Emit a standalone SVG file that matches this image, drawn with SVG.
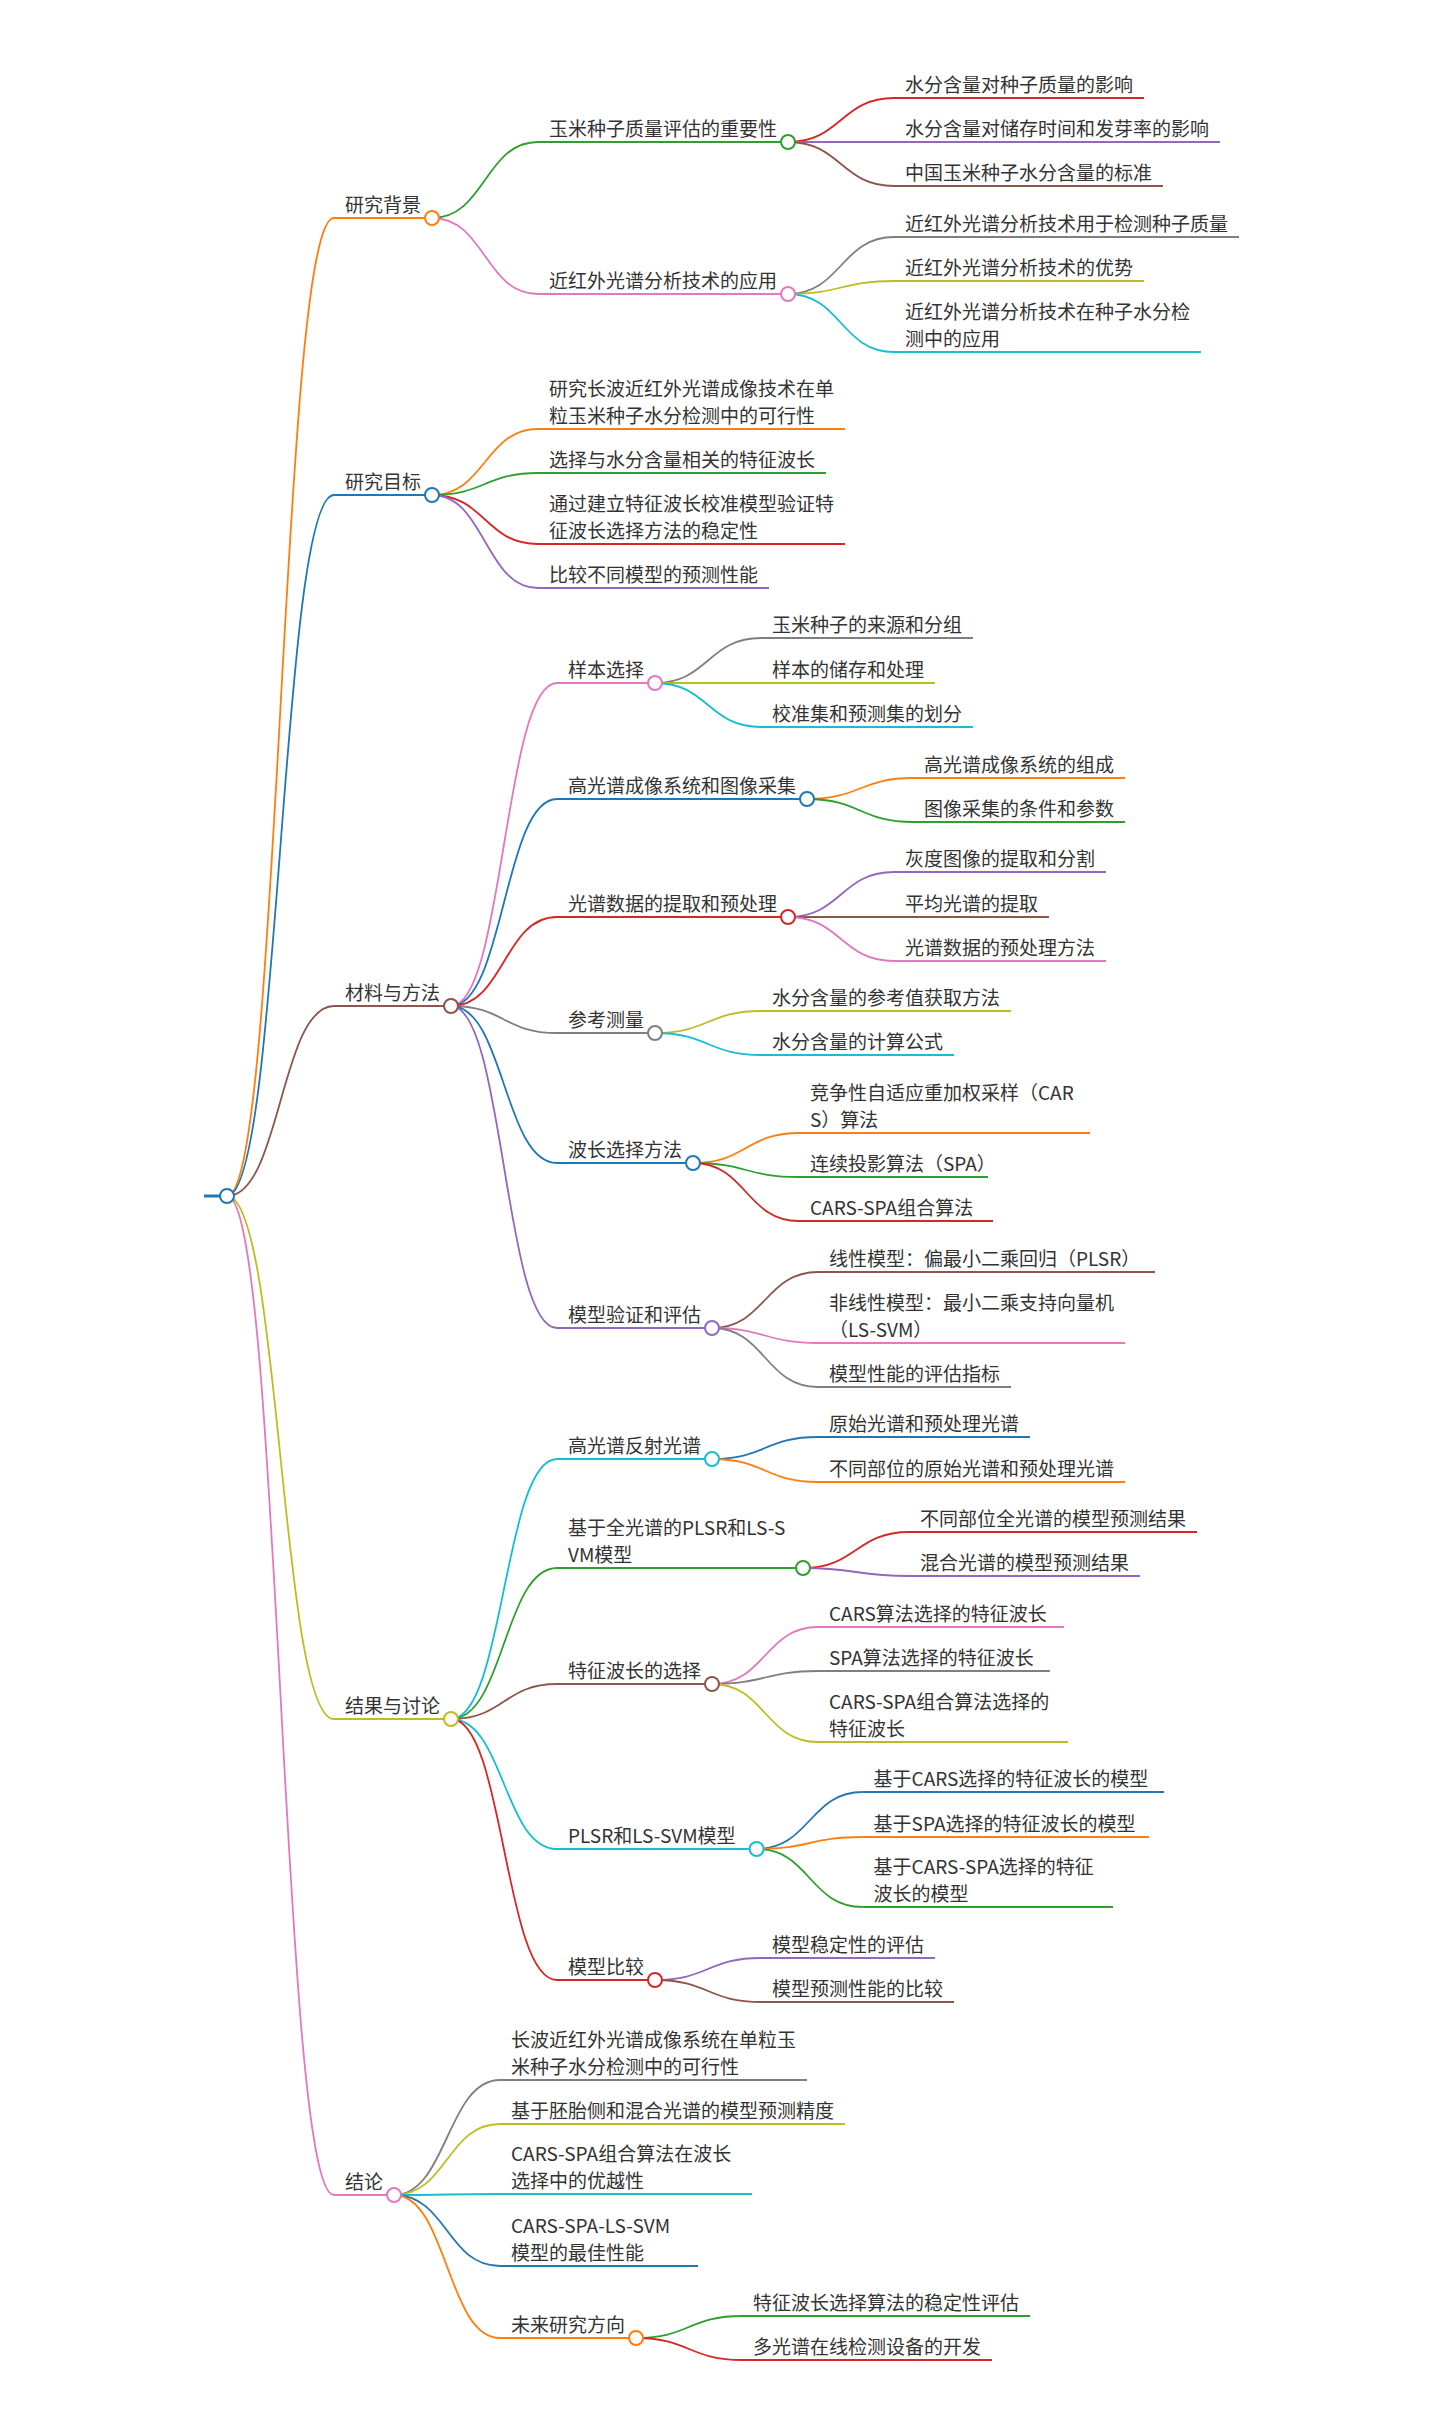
<svg xmlns="http://www.w3.org/2000/svg" width="1440" height="2421" viewBox="0 0 1440 2421">
<style>
.t{font-family:"Noto Sans CJK SC","Noto Sans",sans-serif;font-size:19px;fill:#333}
.l{fill:none;stroke-width:1.8}
.u{stroke-width:1.8}
.d{fill:#fff;stroke-width:2}
.bl{stroke:#1f77b4}.or{stroke:#ff7f0e}.gr{stroke:#2ca02c}.rd{stroke:#d62728}.pu{stroke:#9467bd}
.br{stroke:#8c564b}.pk{stroke:#e377c2}.gy{stroke:#7f7f7f}.ol{stroke:#bcbd22}.cy{stroke:#17becf}
</style>
<rect width="1440" height="2421" fill="#fff"/>
<g id="connectors">
<path class="l or" d="M227,1196 C280.5,1196 280.5,218 334,218"/>
<path class="l bl" d="M227,1196 C280.5,1196 280.5,495 334,495"/>
<path class="l br" d="M227,1196 C280.5,1196 280.5,1006 334,1006"/>
<path class="l ol" d="M227,1196 C280.5,1196 280.5,1719 334,1719"/>
<path class="l pk" d="M227,1196 C280.5,1196 280.5,2195 334,2195"/>
<path class="l gr" d="M432,218 C485,218 485,142 538,142"/>
<path class="l pk" d="M432,218 C485,218 485,294 538,294"/>
<path class="l rd" d="M788,142 C841,142 841,98 894,98"/>
<path class="l pu" d="M788,142 C841,142 841,142 894,142"/>
<path class="l br" d="M788,142 C841,142 841,186 894,186"/>
<path class="l gy" d="M788,294 C841,294 841,237 894,237"/>
<path class="l ol" d="M788,294 C841,294 841,281 894,281"/>
<path class="l cy" d="M788,294 C841,294 841,352 894,352"/>
<path class="l or" d="M432,495 C485,495 485,429 538,429"/>
<path class="l gr" d="M432,495 C485,495 485,473 538,473"/>
<path class="l rd" d="M432,495 C485,495 485,544 538,544"/>
<path class="l pu" d="M432,495 C485,495 485,588 538,588"/>
<path class="l pk" d="M451,1006 C504,1006 504,683 557,683"/>
<path class="l bl" d="M451,1006 C504,1006 504,799 557,799"/>
<path class="l rd" d="M451,1006 C504,1006 504,917 557,917"/>
<path class="l gy" d="M451,1006 C504,1006 504,1033 557,1033"/>
<path class="l bl" d="M451,1006 C504,1006 504,1163 557,1163"/>
<path class="l pu" d="M451,1006 C504,1006 504,1328 557,1328"/>
<path class="l gy" d="M655,683 C708,683 708,638 761,638"/>
<path class="l ol" d="M655,683 C708,683 708,683 761,683"/>
<path class="l cy" d="M655,683 C708,683 708,727 761,727"/>
<path class="l or" d="M807,799 C860,799 860,778 913,778"/>
<path class="l gr" d="M807,799 C860,799 860,822 913,822"/>
<path class="l pu" d="M788,917 C841,917 841,872 894,872"/>
<path class="l br" d="M788,917 C841,917 841,917 894,917"/>
<path class="l pk" d="M788,917 C841,917 841,961 894,961"/>
<path class="l ol" d="M655,1033 C708,1033 708,1011 761,1011"/>
<path class="l cy" d="M655,1033 C708,1033 708,1055 761,1055"/>
<path class="l or" d="M693,1163 C746,1163 746,1133 799,1133"/>
<path class="l gr" d="M693,1163 C746,1163 746,1177 799,1177"/>
<path class="l rd" d="M693,1163 C746,1163 746,1221 799,1221"/>
<path class="l br" d="M712,1328 C765,1328 765,1272 818,1272"/>
<path class="l pk" d="M712,1328 C765,1328 765,1343 818,1343"/>
<path class="l gy" d="M712,1328 C765,1328 765,1387 818,1387"/>
<path class="l cy" d="M451,1719 C504,1719 504,1459 557,1459"/>
<path class="l gr" d="M451,1719 C504,1719 504,1568 557,1568"/>
<path class="l br" d="M451,1719 C504,1719 504,1684 557,1684"/>
<path class="l cy" d="M451,1719 C504,1719 504,1849 557,1849"/>
<path class="l rd" d="M451,1719 C504,1719 504,1980 557,1980"/>
<path class="l bl" d="M712,1459 C765,1459 765,1437 818,1437"/>
<path class="l or" d="M712,1459 C765,1459 765,1482 818,1482"/>
<path class="l rd" d="M803,1568 C856,1568 856,1532 909,1532"/>
<path class="l pu" d="M803,1568 C856,1568 856,1576 909,1576"/>
<path class="l pk" d="M712,1684 C765,1684 765,1627 818,1627"/>
<path class="l gy" d="M712,1684 C765,1684 765,1671 818,1671"/>
<path class="l ol" d="M712,1684 C765,1684 765,1742 818,1742"/>
<path class="l bl" d="M756.6,1849 C809.6,1849 809.6,1792 862.6,1792"/>
<path class="l or" d="M756.6,1849 C809.6,1849 809.6,1837 862.6,1837"/>
<path class="l gr" d="M756.6,1849 C809.6,1849 809.6,1907 862.6,1907"/>
<path class="l pu" d="M655,1980 C708,1980 708,1958 761,1958"/>
<path class="l br" d="M655,1980 C708,1980 708,2002 761,2002"/>
<path class="l gy" d="M394,2195 C447,2195 447,2080 500,2080"/>
<path class="l ol" d="M394,2195 C447,2195 447,2124 500,2124"/>
<path class="l cy" d="M394,2195 C447,2195 447,2194 500,2194"/>
<path class="l bl" d="M394,2195 C447,2195 447,2266 500,2266"/>
<path class="l or" d="M394,2195 C447,2195 447,2338 500,2338"/>
<path class="l gr" d="M636,2338 C689,2338 689,2316 742,2316"/>
<path class="l rd" d="M636,2338 C689,2338 689,2360 742,2360"/>
</g>

<g id="root"><line class="bl" stroke-width="3" x1="204" y1="1196" x2="227" y2="1196"/><circle class="d bl" cx="227" cy="1196" r="7"/></g>

<g id="n-bg"><line class="u or" x1="334" y1="218" x2="432" y2="218"/><text class="t" x="345" y="212">研究背景</text><circle class="d or" cx="432" cy="218" r="7"/></g>
<g id="n-bg1"><line class="u gr" x1="538" y1="142" x2="788" y2="142"/><text class="t" x="549" y="136">玉米种子质量评估的重要性</text><circle class="d gr" cx="788" cy="142" r="7"/></g>
<g id="n-bg1a"><line class="u rd" x1="894" y1="98" x2="1144" y2="98"/><text class="t" x="905" y="92">水分含量对种子质量的影响</text></g>
<g id="n-bg1b"><line class="u pu" x1="894" y1="142" x2="1220" y2="142"/><text class="t" x="905" y="136">水分含量对储存时间和发芽率的影响</text></g>
<g id="n-bg1c"><line class="u br" x1="894" y1="186" x2="1163" y2="186"/><text class="t" x="905" y="180">中国玉米种子水分含量的标准</text></g>
<g id="n-bg2"><line class="u pk" x1="538" y1="294" x2="788" y2="294"/><text class="t" x="549" y="288">近红外光谱分析技术的应用</text><circle class="d pk" cx="788" cy="294" r="7"/></g>
<g id="n-bg2a"><line class="u gy" x1="894" y1="237" x2="1239" y2="237"/><text class="t" x="905" y="231">近红外光谱分析技术用于检测种子质量</text></g>
<g id="n-bg2b"><line class="u ol" x1="894" y1="281" x2="1144" y2="281"/><text class="t" x="905" y="275">近红外光谱分析技术的优势</text></g>
<g id="n-bg2c"><line class="u cy" x1="894" y1="352" x2="1201" y2="352"/><text class="t" x="905" y="319">近红外光谱分析技术在种子水分检</text><text class="t" x="905" y="346">测中的应用</text></g>

<g id="n-mb"><line class="u bl" x1="334" y1="495" x2="432" y2="495"/><text class="t" x="345" y="489">研究目标</text><circle class="d bl" cx="432" cy="495" r="7"/></g>
<g id="n-mb1"><line class="u or" x1="538" y1="429" x2="845" y2="429"/><text class="t" x="549" y="396">研究长波近红外光谱成像技术在单</text><text class="t" x="549" y="423">粒玉米种子水分检测中的可行性</text></g>
<g id="n-mb2"><line class="u gr" x1="538" y1="473" x2="826" y2="473"/><text class="t" x="549" y="467">选择与水分含量相关的特征波长</text></g>
<g id="n-mb3"><line class="u rd" x1="538" y1="544" x2="845" y2="544"/><text class="t" x="549" y="511">通过建立特征波长校准模型验证特</text><text class="t" x="549" y="538">征波长选择方法的稳定性</text></g>
<g id="n-mb4"><line class="u pu" x1="538" y1="588" x2="769" y2="588"/><text class="t" x="549" y="582">比较不同模型的预测性能</text></g>

<g id="n-cl"><line class="u br" x1="334" y1="1006" x2="451" y2="1006"/><text class="t" x="345" y="1000">材料与方法</text><circle class="d br" cx="451" cy="1006" r="7"/></g>
<g id="n-cl1"><line class="u pk" x1="557" y1="683" x2="655" y2="683"/><text class="t" x="568" y="677">样本选择</text><circle class="d pk" cx="655" cy="683" r="7"/></g>
<g id="n-cl1a"><line class="u gy" x1="761" y1="638" x2="973" y2="638"/><text class="t" x="772" y="632">玉米种子的来源和分组</text></g>
<g id="n-cl1b"><line class="u ol" x1="761" y1="683" x2="935" y2="683"/><text class="t" x="772" y="677">样本的储存和处理</text></g>
<g id="n-cl1c"><line class="u cy" x1="761" y1="727" x2="973" y2="727"/><text class="t" x="772" y="721">校准集和预测集的划分</text></g>
<g id="n-cl2"><line class="u bl" x1="557" y1="799" x2="807" y2="799"/><text class="t" x="568" y="793">高光谱成像系统和图像采集</text><circle class="d bl" cx="807" cy="799" r="7"/></g>
<g id="n-cl2a"><line class="u or" x1="913" y1="778" x2="1125" y2="778"/><text class="t" x="924" y="772">高光谱成像系统的组成</text></g>
<g id="n-cl2b"><line class="u gr" x1="913" y1="822" x2="1125" y2="822"/><text class="t" x="924" y="816">图像采集的条件和参数</text></g>
<g id="n-cl3"><line class="u rd" x1="557" y1="917" x2="788" y2="917"/><text class="t" x="568" y="911">光谱数据的提取和预处理</text><circle class="d rd" cx="788" cy="917" r="7"/></g>
<g id="n-cl3a"><line class="u pu" x1="894" y1="872" x2="1106" y2="872"/><text class="t" x="905" y="866">灰度图像的提取和分割</text></g>
<g id="n-cl3b"><line class="u br" x1="894" y1="917" x2="1049" y2="917"/><text class="t" x="905" y="911">平均光谱的提取</text></g>
<g id="n-cl3c"><line class="u pk" x1="894" y1="961" x2="1106" y2="961"/><text class="t" x="905" y="955">光谱数据的预处理方法</text></g>
<g id="n-cl4"><line class="u gy" x1="557" y1="1033" x2="655" y2="1033"/><text class="t" x="568" y="1027">参考测量</text><circle class="d gy" cx="655" cy="1033" r="7"/></g>
<g id="n-cl4a"><line class="u ol" x1="761" y1="1011" x2="1011" y2="1011"/><text class="t" x="772" y="1005">水分含量的参考值获取方法</text></g>
<g id="n-cl4b"><line class="u cy" x1="761" y1="1055" x2="954" y2="1055"/><text class="t" x="772" y="1049">水分含量的计算公式</text></g>
<g id="n-cl5"><line class="u bl" x1="557" y1="1163" x2="693" y2="1163"/><text class="t" x="568" y="1157">波长选择方法</text><circle class="d bl" cx="693" cy="1163" r="7"/></g>
<g id="n-cl5a"><line class="u or" x1="799" y1="1133" x2="1090" y2="1133"/><text class="t" x="810" y="1100">竞争性自适应重加权采样（CAR</text><text class="t" x="810" y="1127">S）算法</text></g>
<g id="n-cl5b"><line class="u gr" x1="799" y1="1177" x2="988" y2="1177"/><text class="t" x="810" y="1171">连续投影算法（SPA）</text></g>
<g id="n-cl5c"><line class="u rd" x1="799" y1="1221" x2="993" y2="1221"/><text class="t" x="810" y="1215">CARS-SPA组合算法</text></g>
<g id="n-cl6"><line class="u pu" x1="557" y1="1328" x2="712" y2="1328"/><text class="t" x="568" y="1322">模型验证和评估</text><circle class="d pu" cx="712" cy="1328" r="7"/></g>
<g id="n-cl6a"><line class="u br" x1="818" y1="1272" x2="1155" y2="1272"/><text class="t" x="829" y="1266">线性模型：偏最小二乘回归（PLSR）</text></g>
<g id="n-cl6b"><line class="u pk" x1="818" y1="1343" x2="1125" y2="1343"/><text class="t" x="829" y="1310">非线性模型：最小二乘支持向量机</text><text class="t" x="829" y="1337">（LS-SVM）</text></g>
<g id="n-cl6c"><line class="u gy" x1="818" y1="1387" x2="1011" y2="1387"/><text class="t" x="829" y="1381">模型性能的评估指标</text></g>

<g id="n-rs"><line class="u ol" x1="334" y1="1719" x2="451" y2="1719"/><text class="t" x="345" y="1713">结果与讨论</text><circle class="d ol" cx="451" cy="1719" r="7"/></g>
<g id="n-rs1"><line class="u cy" x1="557" y1="1459" x2="712" y2="1459"/><text class="t" x="568" y="1453">高光谱反射光谱</text><circle class="d cy" cx="712" cy="1459" r="7"/></g>
<g id="n-rs1a"><line class="u bl" x1="818" y1="1437" x2="1030" y2="1437"/><text class="t" x="829" y="1431">原始光谱和预处理光谱</text></g>
<g id="n-rs1b"><line class="u or" x1="818" y1="1482" x2="1125" y2="1482"/><text class="t" x="829" y="1476">不同部位的原始光谱和预处理光谱</text></g>
<g id="n-rs2"><line class="u gr" x1="557" y1="1568" x2="803" y2="1568"/><text class="t" x="568" y="1535">基于全光谱的PLSR和LS-S</text><text class="t" x="568" y="1562">VM模型</text><circle class="d gr" cx="803" cy="1568" r="7"/></g>
<g id="n-rs2a"><line class="u rd" x1="909" y1="1532" x2="1197" y2="1532"/><text class="t" x="920" y="1526">不同部位全光谱的模型预测结果</text></g>
<g id="n-rs2b"><line class="u pu" x1="909" y1="1576" x2="1140" y2="1576"/><text class="t" x="920" y="1570">混合光谱的模型预测结果</text></g>
<g id="n-rs3"><line class="u br" x1="557" y1="1684" x2="712" y2="1684"/><text class="t" x="568" y="1678">特征波长的选择</text><circle class="d br" cx="712" cy="1684" r="7"/></g>
<g id="n-rs3a"><line class="u pk" x1="818" y1="1627" x2="1064" y2="1627"/><text class="t" x="829" y="1621">CARS算法选择的特征波长</text></g>
<g id="n-rs3b"><line class="u gy" x1="818" y1="1671" x2="1050" y2="1671"/><text class="t" x="829" y="1665">SPA算法选择的特征波长</text></g>
<g id="n-rs3c"><line class="u ol" x1="818" y1="1742" x2="1068" y2="1742"/><text class="t" x="829" y="1709">CARS-SPA组合算法选择的</text><text class="t" x="829" y="1736">特征波长</text></g>
<g id="n-rs4"><line class="u cy" x1="557" y1="1849" x2="756.6" y2="1849"/><text class="t" x="568" y="1843">PLSR和LS-SVM模型</text><circle class="d cy" cx="756.6" cy="1849" r="7"/></g>
<g id="n-rs4a"><line class="u bl" x1="862.6" y1="1792" x2="1164" y2="1792"/><text class="t" x="873.6" y="1786">基于CARS选择的特征波长的模型</text></g>
<g id="n-rs4b"><line class="u or" x1="862.6" y1="1837" x2="1149" y2="1837"/><text class="t" x="873.6" y="1831">基于SPA选择的特征波长的模型</text></g>
<g id="n-rs4c"><line class="u gr" x1="862.6" y1="1907" x2="1113" y2="1907"/><text class="t" x="873.6" y="1874">基于CARS-SPA选择的特征</text><text class="t" x="873.6" y="1901">波长的模型</text></g>
<g id="n-rs5"><line class="u rd" x1="557" y1="1980" x2="655" y2="1980"/><text class="t" x="568" y="1974">模型比较</text><circle class="d rd" cx="655" cy="1980" r="7"/></g>
<g id="n-rs5a"><line class="u pu" x1="761" y1="1958" x2="935" y2="1958"/><text class="t" x="772" y="1952">模型稳定性的评估</text></g>
<g id="n-rs5b"><line class="u br" x1="761" y1="2002" x2="954" y2="2002"/><text class="t" x="772" y="1996">模型预测性能的比较</text></g>

<g id="n-cc"><line class="u pk" x1="334" y1="2195" x2="394" y2="2195"/><text class="t" x="345" y="2189">结论</text><circle class="d pk" cx="394" cy="2195" r="7"/></g>
<g id="n-cc1"><line class="u gy" x1="500" y1="2080" x2="807" y2="2080"/><text class="t" x="511" y="2047">长波近红外光谱成像系统在单粒玉</text><text class="t" x="511" y="2074">米种子水分检测中的可行性</text></g>
<g id="n-cc2"><line class="u ol" x1="500" y1="2124" x2="845" y2="2124"/><text class="t" x="511" y="2118">基于胚胎侧和混合光谱的模型预测精度</text></g>
<g id="n-cc3"><line class="u cy" x1="500" y1="2194" x2="752" y2="2194"/><text class="t" x="511" y="2161">CARS-SPA组合算法在波长</text><text class="t" x="511" y="2188">选择中的优越性</text></g>
<g id="n-cc4"><line class="u bl" x1="500" y1="2266" x2="698" y2="2266"/><text class="t" x="511" y="2233">CARS-SPA-LS-SVM</text><text class="t" x="511" y="2260">模型的最佳性能</text></g>
<g id="n-cc5"><line class="u or" x1="500" y1="2338" x2="636" y2="2338"/><text class="t" x="511" y="2332">未来研究方向</text><circle class="d or" cx="636" cy="2338" r="7"/></g>
<g id="n-cc5a"><line class="u gr" x1="742" y1="2316" x2="1030" y2="2316"/><text class="t" x="753" y="2310">特征波长选择算法的稳定性评估</text></g>
<g id="n-cc5b"><line class="u rd" x1="742" y1="2360" x2="992" y2="2360"/><text class="t" x="753" y="2354">多光谱在线检测设备的开发</text></g>
</svg>
